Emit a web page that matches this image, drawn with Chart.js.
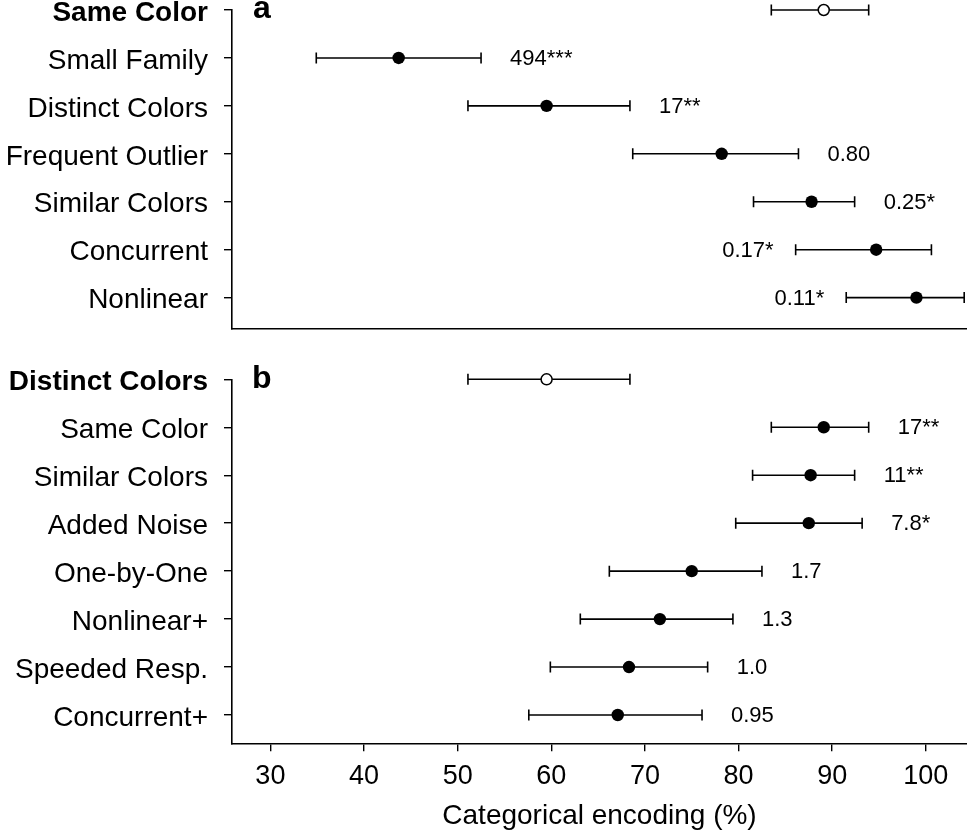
<!DOCTYPE html>
<html>
<head>
<meta charset="utf-8">
<script src="https://cdn.jsdelivr.net/npm/chart.js@4.4.1/dist/chart.umd.min.js"></script>
<style>
  html, body { margin: 0; padding: 0; background: #fff; }
  body { width: 967px; height: 837px; position: relative; overflow: hidden; }
  canvas { position: absolute; left: 0; }
  #ca { top: 0; }
  #cb { top: 345px; }
</style>
</head>
<body>
<canvas id="ca" width="967" height="345" style="width:967px;height:345px"></canvas>
<canvas id="cb" width="967" height="492" style="width:967px;height:492px"></canvas>
<script>
// ---------- DATA ----------
const xTickValues = [30, 40, 50, 60, 70, 80, 90, 100];
const xTitle = "Categorical encoding (%)";

const aLabels = ["Same Color", "Small Family", "Distinct Colors", "Frequent Outlier", "Similar Colors", "Concurrent", "Nonlinear"];
const aMean   = [89.1, 43.7, 59.5, 78.2, 87.8, 94.7, 99.0];
const aLower  = [83.5, 34.9, 51.1, 68.7, 81.6, 86.1, 91.5];
const aUpper  = [93.9, 52.5, 68.4, 86.4, 92.4, 100.6, 104.1];
const aBF     = ["", "494***", "17**", "0.80", "0.25*", "0.17*", "0.11*"];

const bLabels = ["Distinct Colors", "Same Color", "Similar Colors", "Added Noise", "One-by-One", "Nonlinear+", "Speeded Resp.", "Concurrent+"];
const bMean   = [59.5, 89.1, 87.7, 87.5, 75.0, 71.6, 68.3, 67.1];
const bLower  = [51.1, 83.5, 81.5, 79.7, 66.2, 63.1, 59.9, 57.6];
const bUpper  = [68.4, 93.9, 92.4, 93.2, 82.5, 79.4, 76.7, 76.1];
const bBF     = ["", "17**", "11**", "7.8*", "1.7", "1.3", "1.0", "0.95"];

// ---------- RENDERING ----------
const FONT = "'Liberation Sans', Arial, Helvetica, sans-serif";
const X_MIN = 25.9, X_MAX = 104.4;

function makePlugin(lower, upper, bf, letter, letterX, letterY) {
  return {
    id: 'errbars',
    beforeDatasetsDraw(chart) {
      const {ctx, scales: {x, y}} = chart;
      ctx.save();
      ctx.strokeStyle = '#000';
      ctx.lineWidth = 1.6;
      for (let i = 0; i < lower.length; i++) {
        const yp = y.getPixelForValue(i);
        const xl = x.getPixelForValue(lower[i]);
        const xu = x.getPixelForValue(upper[i]);
        ctx.beginPath();
        ctx.moveTo(xl, yp); ctx.lineTo(xu, yp);
        ctx.moveTo(xl, yp - 5.5); ctx.lineTo(xl, yp + 5.5);
        ctx.moveTo(xu, yp - 5.5); ctx.lineTo(xu, yp + 5.5);
        ctx.stroke();
      }
      ctx.restore();
    },
    afterDatasetsDraw(chart) {
      const {ctx, scales: {x, y}, chartArea} = chart;
      ctx.save();
      ctx.fillStyle = '#000';
      ctx.font = "22px " + FONT;
      ctx.textBaseline = 'middle';
      for (let i = 0; i < bf.length; i++) {
        if (!bf[i]) continue;
        const yp = y.getPixelForValue(i) + 1;
        const w = ctx.measureText(bf[i]).width;
        const xu = x.getPixelForValue(upper[i]);
        if (xu + 29 + w <= chartArea.right) {
          ctx.textAlign = 'left';
          ctx.fillText(bf[i], xu + 29, yp);
        } else {
          const xl = x.getPixelForValue(lower[i]);
          ctx.textAlign = 'right';
          ctx.fillText(bf[i], xl - 22, yp);
        }
      }
      ctx.font = "bold 32px " + FONT;
      ctx.textAlign = 'left';
      ctx.textBaseline = 'alphabetic';
      ctx.fillText(letter, letterX, letterY);
      ctx.restore();
    }
  };
}

function makeChart(canvasId, labels, mean, lower, upper, bf, yMax, padTop, padBottom, showX, letter, letterX, letterY) {
  const data = mean.map((v, i) => ({x: v, y: i}));
  return new Chart(document.getElementById(canvasId), {
    type: 'scatter',
    data: {
      datasets: [{
        data: data,
        clip: false,
        pointRadius: ctx => ctx.dataIndex === 0 ? 5.5 : 6.2,
        pointHoverRadius: ctx => ctx.dataIndex === 0 ? 5.5 : 6.2,
        pointBackgroundColor: ctx => ctx.dataIndex === 0 ? '#fff' : '#000',
        pointBorderColor: '#000',
        pointBorderWidth: ctx => ctx.dataIndex === 0 ? 1.5 : 0
      }]
    },
    options: {
      responsive: false,
      animation: false,
      events: [],
      layout: { autoPadding: false, padding: { top: padTop, bottom: padBottom, left: 0, right: 0 } },
      plugins: { legend: { display: false }, tooltip: { enabled: false } },
      scales: {
        x: {
          type: 'linear',
          min: X_MIN, max: X_MAX,
          afterBuildTicks: s => { s.ticks = xTickValues.map(v => ({value: v})); },
          afterFit: s => { s.height = showX ? 93.7 : 0; s.paddingLeft = 0; s.paddingRight = 0; },
          grid: { display: showX, drawOnChartArea: false, drawTicks: true, tickLength: 8, color: '#000', lineWidth: 1.4 },
          border: { display: true, color: '#000', width: 1.6 },
          ticks: { display: showX, autoSkip: false, maxRotation: 0, color: '#000', padding: 9, font: { family: FONT, size: 27 } },
          title: { display: showX, text: xTitle, color: '#000', font: { family: FONT, size: 28 }, padding: { top: 0, bottom: 4 } }
        },
        y: {
          type: 'linear',
          reverse: true,
          min: 0, max: yMax,
          afterBuildTicks: s => { s.ticks = labels.map((_, i) => ({value: i})); },
          afterFit: s => { s.width = 232; s.paddingTop = 0; s.paddingBottom = 0; },
          grid: { display: true, drawOnChartArea: false, drawTicks: true, tickLength: 8, color: '#000', lineWidth: 1.4 },
          border: { display: true, color: '#000', width: 1.6 },
          ticks: {
            autoSkip: false,
            color: '#000',
            padding: 16,
            labelOffset: 3,
            font: ctx => ({ family: FONT, size: 28, weight: ctx.index === 0 ? 'bold' : 'normal' }),
            callback: (v, i) => labels[i]
          }
        }
      }
    },
    plugins: [makePlugin(lower, upper, bf, letter, letterX, letterY)]
  });
}

makeChart('ca', aLabels, aMean, aLower, aUpper, aBF, 6.64, 10, 345 - 328.3, false, 'a', 253, 18);
makeChart('cb', bLabels, bMean, bLower, bUpper, bBF, 7.59, 379.3 - 345, 0, true, 'b', 252, 388 - 345);
</script>
</body>
</html>
